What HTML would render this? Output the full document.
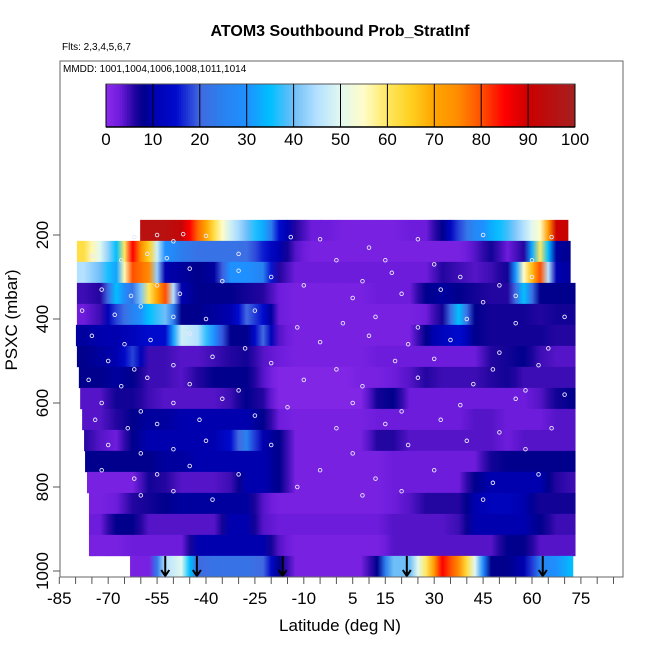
<!DOCTYPE html>
<html><head><meta charset="utf-8"><style>
html,body{margin:0;padding:0;background:#fff;}
svg{display:block;font-family:"Liberation Sans",sans-serif;}
</style></head><body>
<svg id="chart" width="650" height="650" viewBox="0 0 650 650">
<defs id="defs"></defs>
<text x="340" y="36" text-anchor="middle" font-size="16" font-weight="bold">ATOM3 Southbound Prob_StratInf</text>
<text x="62" y="50" font-size="10">Flts: 2,3,4,5,6,7</text>
<text x="63" y="72" font-size="10">MMDD: 1001,1004,1006,1008,1011,1014</text>
<g id="heat"></g>
<g id="dots"></g>
<g id="arrows"></g>
<g id="cbar"></g>
<rect x="60" y="61" width="563" height="516" fill="none" stroke="#666" stroke-width="1"/>
<g id="xaxis"></g>
<g id="yaxis"></g>
<text x="340" y="631" text-anchor="middle" font-size="17">Latitude (deg N)</text>
<text transform="translate(17,320) rotate(-90)" text-anchor="middle" font-size="17">PSXC (mbar)</text>
</svg>
<script>
const latBins = [-85,-80,-75,-70,-65,-60,-55,-50,-45,-40,-35,-30,-25,-20,-15,-10,-5,0,5,10,15,20,25,30,35,40,45,50,55,60,65,70];
const pressureBins = [189,239,289,339,389,439,489,539,589,639,689,739,789,839,889,939,989];
const rowStart = [-60.2,-79.6,-79.6,-79.6,-79.6,-79.9,-79.6,-79,-78.6,-78,-77.4,-77.1,-76.5,-75.9,-75.9,-75.9,-63.3];
const rowEnd = [71,71.7,71.7,73.2,73.2,73.2,73.2,73.2,73.2,73.2,73.2,73.2,73.2,73.2,73.2,73.2,72.5];
const row0=[0,0,0,0,95,95,95,92,78,62,48,40,33,15,6,3,3,2,2,2,2,3,3,8,18,27,33,38,45,55,90,92];
const row1=[62,62,50,35,85,65,30,24,22,22,22,21,16,10,4,2,2,2,2,2,2,2,2,2,2,4,7,3,6,60,9,8];
const row2=[45,45,40,32,80,75,10,9,8,9,30,30,25,6,3,3,3,3,3,3,3,3,3,6,5,4,5,7,55,80,10,9];
const row3=[5,5,6,35,22,60,80,10,8,8,8,7,6,3,2,2,2,2,2,3,3,3,8,9,8,7,6,6,35,8,8,8];
const row4=[3,3,5,18,25,35,40,8,8,9,10,20,15,3,2,2,2,2,2,2,2,2,3,7,35,8,7,7,7,6,7,7];
const row5=[9,9,10,10,12,15,15,48,45,30,8,8,20,4,2,2,2,2,2,2,2,2,8,12,15,8,7,7,7,7,6,6];
const row6=[8,8,9,10,18,5,5,4,4,5,6,7,4,3,2,2,2,2,2,3,3,3,3,3,3,3,6,7,8,5,4,4];
const row7=[8,8,8,9,8,5,5,4,6,8,8,8,4,1,1,1,1,1,2,2,3,4,6,5,5,5,6,7,5,5,5,5];
const row8=[4,4,4,7,7,5,4,4,4,4,5,8,6,1,1,1,1,1,1,7,8,3,3,3,3,3,3,3,3,4,7,8];
const row9=[4,4,4,6,8,9,9,10,10,10,10,10,8,3,2,2,2,2,2,3,3,3,3,3,3,4,4,3,3,3,4,4];
const row10=[6,6,4,3,8,10,10,10,10,10,15,25,10,8,2,2,2,2,2,6,6,4,4,4,4,4,4,3,4,4,4,4];
const row11=[8,8,8,8,8,8,9,9,10,10,10,10,10,8,2,2,2,2,2,2,3,3,3,3,3,3,7,8,8,8,8,8];
const row12=[2,2,2,2,2,7,6,4,4,4,5,10,10,8,2,2,2,2,2,2,3,3,3,3,3,8,10,10,10,10,6,5];
const row13=[2,2,2,3,6,7,8,9,9,9,9,9,4,2,2,2,2,2,2,2,3,4,6,6,6,10,12,12,10,7,7,7];
const row14=[3,3,3,8,8,4,4,4,4,4,10,10,4,3,3,3,3,3,3,3,4,4,4,4,5,10,10,10,10,8,5,5];
const row15=[2,2,2,2,3,3,3,3,10,10,10,10,10,4,2,2,2,2,2,2,4,4,4,4,4,4,4,8,8,4,4,4];
const row16=[0,0,0,0,2,2,45,50,20,22,22,22,20,8,2,2,2,2,2,8,40,40,60,85,75,50,8,8,10,25,30,35];
const rows=[row0,row1,row2,row3,row4,row5,row6,row7,row8,row9,row10,row11,row12,row13,row14,row15,row16];
const dotLat=[-62,-55,-50,-47,-40,-30,-14,-5,10,15,25,45,60,66,-75,-66,-58,-52,-45,-30,-20,0,8,17,30,38,50,60,-72,-63,-55,-48,-35,-10,5,20,32,45,55,-78,-68,-60,-50,-40,-25,-12,2,12,25,40,55,70,-75,-65,-57,-45,-28,-5,10,22,35,50,65,-70,-62,-50,-38,-20,0,18,30,48,62,-76,-66,-58,-45,-30,-10,8,25,42,58,70,-72,-60,-50,-35,-15,5,20,38,55,-74,-64,-55,-42,-25,0,15,32,50,66,-70,-60,-50,-40,-20,5,22,40,58,-72,-62,-55,-45,-30,-5,12,30,48,62,-60,-50,-38,-12,8,20,45];
const dotP=[205,200,215,198,202,245,205,210,230,260,210,200,260,205,250,260,245,255,280,285,300,260,310,290,270,300,320,300,330,345,320,340,310,320,350,340,330,360,345,380,390,370,395,400,380,420,410,395,420,400,410,395,440,460,450,435,470,455,440,460,450,480,470,500,520,510,490,505,520,500,495,520,510,545,560,540,555,570,545,560,540,555,570,580,600,620,600,590,610,600,620,605,590,640,660,650,640,630,660,650,640,670,660,700,720,710,690,700,720,700,690,710,760,780,770,750,770,760,780,760,790,770,820,810,830,800,820,810,830];
const arrowLat=[-52.5,-42.8,-16.5,21.6,63.3];
const cbarTicks=[0,10,20,30,40,50,60,70,80,90,100];
const xTickLabels=[-85,-70,-55,-40,-25,-10,5,15,30,45,60,75];
const yTickLabels=[200,400,600,800,1000];

const NS='http://www.w3.org/2000/svg';
function xs(lat){return 59.3+(lat+85)*3.26;}
function ys(p){return 235+(p-200)*0.42;}
const cstops=[[0,[140,43,235]],[3,[110,28,220]],[6,[35,5,160]],[8,[0,0,140]],[10,[0,0,175]],[15,[0,10,205]],[20,[65,105,225]],[25,[40,130,240]],[30,[30,144,255]],[35,[0,191,255]],[40,[110,190,248]],[45,[180,225,255]],[50,[225,248,240]],[55,[255,252,200]],[60,[255,232,96]],[65,[255,208,32]],[70,[255,165,0]],[75,[255,140,0]],[80,[255,80,0]],[85,[255,0,0]],[90,[204,0,0]],[100,[165,32,32]]];
function cmap(v){
  for(let i=1;i<cstops.length;i++){
    if(v<=cstops[i][0]){const a=cstops[i-1],b=cstops[i];const t=(v-a[0])/(b[0]-a[0]);
      const c=a[1].map((q,j)=>Math.round(q+(b[1][j]-q)*t));return 'rgb('+c.join(',')+')';}
  }
  return 'rgb(165,32,32)';
}
function mk(tag,attrs,parent){const e=document.createElementNS(NS,tag);for(const k in attrs)e.setAttribute(k,attrs[k]);parent.appendChild(e);return e;}

const defs=document.getElementById('defs');
const heat=document.getElementById('heat');
rows.forEach((vals,i)=>{
  const p=pressureBins[i];const y0=ys(p-25),y1=ys(p+25);
  vals.forEach((v,k)=>{
    let l=Math.max(latBins[k],rowStart[i]),r=Math.min(latBins[k]+5,rowEnd[i]);
    if(r<=l)return;
    const vl=k>0?(vals[k-1]+v)/2:v, vr=k<vals.length-1?(vals[k+1]+v)/2:v;
    const gid='g'+i+'_'+k;
    const lg=mk('linearGradient',{id:gid,gradientUnits:'userSpaceOnUse',x1:xs(latBins[k]),x2:xs(latBins[k]+5),y1:0,y2:0},defs);
    mk('stop',{offset:'0','stop-color':cmap(vl)},lg);
    mk('stop',{offset:'0.5','stop-color':cmap(v)},lg);
    mk('stop',{offset:'1','stop-color':cmap(vr)},lg);
    const e=mk('rect',{x:xs(l),y:y0,width:xs(r)-xs(l)+0.5,height:y1-y0+0.3,fill:'url(#'+gid+')'},heat);
    
    
  });
});
const dots=document.getElementById('dots');
dotLat.forEach((lat,i)=>{
  const c=mk('circle',{cx:xs(lat),cy:ys(dotP[i]),r:1.8,fill:'none',stroke:'#e8e8ff','stroke-width':0.9},dots);
  
  
});
const ar=document.getElementById('arrows');
arrowLat.forEach(lat=>{
  const x=xs(lat);
  const g=mk('path',{d:`M${x},556 L${x},576 M${x-4},570 L${x},576 L${x+4},570`,stroke:'#000','stroke-width':2,fill:'none'},ar);
  
  
});
const cb=document.getElementById('cbar');
const cx0=106,cx1=575,cy0=84,cy1=127;
for(let v=0;v<100;v+=0.5){
  const x=cx0+(cx1-cx0)*v/100;
  const e=mk('rect',{x:x,y:cy0,width:(cx1-cx0)/200+0.4,height:cy1-cy0,fill:cmap(v+0.25)},cb);
  
  
}
mk('rect',{x:cx0,y:cy0,width:cx1-cx0,height:cy1-cy0,fill:'none',stroke:'#555','stroke-width':1},cb);
cbarTicks.forEach(t=>{
  const x=cx0+(cx1-cx0)*t/100;
  const l=mk('line',{x1:x,x2:x,y1:cy0,y2:cy1,stroke:'#000','stroke-width':1},cb);
  
  
  const tx=mk('text',{x:x,y:145,'text-anchor':'middle','font-size':17},cb);
  tx.textContent=t;
  
  
});
mk('line',{x1:cx0,x2:cx1,y1:cy1,y2:cy1,stroke:'#000','stroke-width':1.5},cb);
const xa=document.getElementById('xaxis');
for(let lat=-85;lat<=85;lat+=5){
  const x=xs(lat);
  const l=mk('line',{x1:x,x2:x,y1:577,y2:584,stroke:'#555','stroke-width':1},xa);
  
  
}
xTickLabels.forEach(t=>{
  const tx=mk('text',{x:xs(t),y:604,'text-anchor':'middle','font-size':17},xa);
  tx.textContent=t;
  
  
});
const ya=document.getElementById('yaxis');
yTickLabels.forEach(t=>{
  const y=ys(t);
  const l=mk('line',{x1:53,x2:60,y1:y,y2:y,stroke:'#555','stroke-width':1},ya);
  
  
  const tx=mk('text',{transform:`translate(48,${y}) rotate(-90)`,'text-anchor':'middle','font-size':17},ya);
  tx.textContent=t;
  
  
});
</script>
</body></html>
